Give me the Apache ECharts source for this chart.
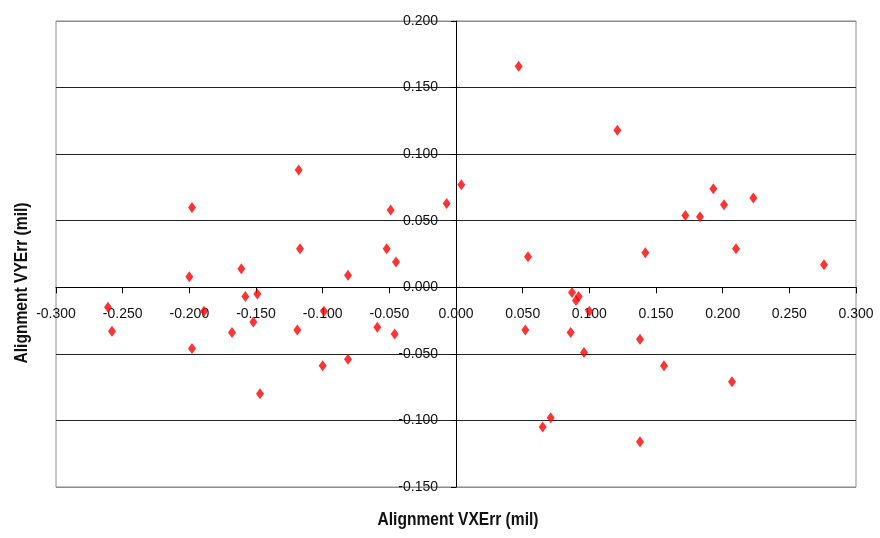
<!DOCTYPE html>
<html>
<head>
<meta charset="utf-8">
<title>Alignment VXErr vs VYErr</title>
<script src="https://cdn.jsdelivr.net/npm/echarts@6/dist/echarts.min.js"></script>
<style>
  html, body { margin: 0; padding: 0; background: #fff; }
  #chart { width: 880px; height: 538px; }
</style>
</head>
<body>
<div id="chart"></div>
<script>
// Alignment error samples, in mil
var vxErr = [
  0.047, 0.121, -0.118, -0.198, -0.049, -0.007, 0.004, -0.117, -0.052, -0.045,
  -0.161, -0.200, -0.081, 0.193, 0.223, 0.201, 0.172, 0.183, 0.054, 0.142,
  0.210, 0.276, -0.261, -0.258, -0.189, -0.158, -0.149, -0.152, -0.168, -0.198,
  -0.147, -0.119, -0.099, -0.100, -0.081, -0.059, -0.046, 0.087, 0.092, 0.090,
  0.100, 0.052, 0.086, 0.138, 0.096, 0.156, 0.207, 0.071, 0.065, 0.138
];
var vyErr = [
  0.166, 0.118, 0.088, 0.060, 0.058, 0.063, 0.077, 0.029, 0.029, 0.019,
  0.014, 0.008, 0.009, 0.074, 0.067, 0.062, 0.054, 0.053, 0.023, 0.026,
  0.029, 0.017, -0.015, -0.033, -0.018, -0.007, -0.005, -0.026, -0.034, -0.046,
  -0.080, -0.032, -0.018, -0.059, -0.054, -0.030, -0.035, -0.004, -0.007, -0.010,
  -0.018, -0.032, -0.034, -0.039, -0.049, -0.059, -0.071, -0.098, -0.105, -0.116
];

var xTitle = 'Alignment VXErr (mil)';
var yTitle = 'Alignment VYErr (mil)';

var points = vxErr.map(function (x, i) { return [x, vyErr[i]]; });

var font = '"Liberation Sans", Arial, sans-serif';
var fmt = function (v) { return v.toFixed(3); };

var gridRect = { left: 56, top: 21, width: 800, height: 466 };

var chart = echarts.init(document.getElementById('chart'), null, { renderer: 'canvas' });
chart.setOption({
  animation: false,
  backgroundColor: '#ffffff',
  grid: {
    left: gridRect.left, top: gridRect.top, width: gridRect.width, height: gridRect.height,
    outerBoundsMode: 'none', containLabel: false,
    show: true, borderColor: '#8c8c8c', borderWidth: 1, backgroundColor: 'transparent'
  },
  xAxis: {
    type: 'value', min: -0.3, max: 0.3, interval: 0.05,
    axisLine: { onZero: false, lineStyle: { color: '#000', width: 1 } },
    axisTick: { show: true, length: 6, lineStyle: { color: '#000' } },
    axisLabel: { formatter: fmt, color: '#111', fontFamily: font, fontSize: 14, margin: 20 },
    splitLine: { show: false }
  },
  yAxis: {
    type: 'value', min: -0.15, max: 0.2, interval: 0.05,
    axisLine: { onZero: false, lineStyle: { color: '#000', width: 1 } },
    axisTick: { show: true, length: 5, lineStyle: { color: '#000' } },
    axisLabel: { formatter: fmt, color: '#111', fontFamily: font, fontSize: 14, margin: 18 },
    splitLine: {
      show: true,
      lineStyle: {
        width: 1,
        color: ['#8c8c8c', '#222', '#222', '#222', '#222', '#222', '#222', '#8c8c8c']
      }
    }
  },
  series: [{
    type: 'scatter',
    data: points,
    symbol: 'diamond',
    symbolSize: [8, 11],
    itemStyle: { color: '#ff0000' },
    z: 5
  }],
  graphic: [
    {
      type: 'text', x: 458, y: 520, scaleX: 0.82,
      style: { text: xTitle, font: 'bold 19px ' + font, fill: '#111', align: 'center', verticalAlign: 'middle' }
    },
    {
      type: 'text', x: 22, y: 283, rotation: Math.PI / 2, scaleX: 0.82,
      style: { text: yTitle, font: 'bold 19px ' + font, fill: '#111', align: 'center', verticalAlign: 'middle' }
    }
  ]
});

// Move both axes so they cross at the data origin (0, 0)
var origin = chart.convertToPixel({ gridIndex: 0 }, [0, 0]);
chart.setOption({
  xAxis: { offset: origin[1] - (gridRect.top + gridRect.height) },
  yAxis: { offset: gridRect.left - origin[0] }
});
</script>
</body>
</html>
